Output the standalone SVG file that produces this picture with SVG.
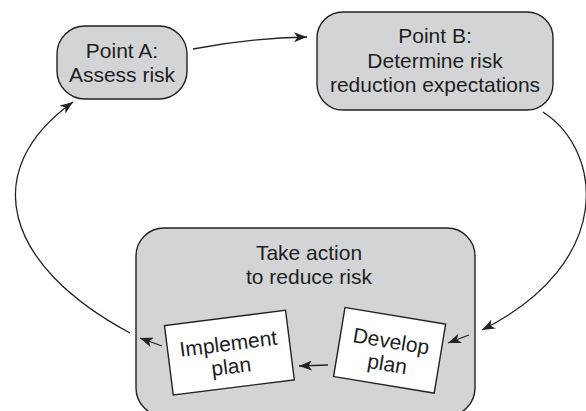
<svg xmlns="http://www.w3.org/2000/svg" width="586" height="411" viewBox="0 0 586 411">
<defs>
<style>
.box{fill:#d3d4d6;stroke:#222;stroke-width:1.4}
.card{fill:#fff;stroke:#222;stroke-width:1.4}
.t{font-family:"Liberation Sans",Arial,sans-serif;font-size:21px;fill:#1e1e1e;text-anchor:middle}
.c{fill:none;stroke:#222;stroke-width:1.3}
</style>
<marker id="ah" markerUnits="userSpaceOnUse" markerWidth="15" markerHeight="10" refX="13" refY="5" orient="auto">
<path d="M0,0 L13,5 L0,10 L3.5,5 z" fill="#222"/>
</marker>
</defs>
<g id="nodeC">
<rect class="box" x="136" y="228" width="339" height="188" rx="28" ry="28"/>
<text class="t" x="309" y="260">Take action</text>
<text class="t" x="309" y="284">to reduce risk</text>
</g>
<g id="nodeA">
<rect class="box" x="57" y="26" width="130" height="73" rx="28" ry="28"/>
<text class="t" x="122" y="58">Point A:</text>
<text class="t" x="122" y="82">Assess risk</text>
</g>
<g id="nodeB">
<rect class="box" x="317" y="12" width="236" height="98" rx="26" ry="26"/>
<text class="t" x="435" y="43">Point B:</text>
<text class="t" x="435" y="68">Determine risk</text>
<text class="t" x="435" y="92">reduction expectations</text>
</g>
<g id="nodeImplement" transform="translate(229.4,352.7) rotate(-7.2)">
<rect class="card" x="-61" y="-35" width="122" height="70"/>
<text class="t" x="0" y="-2">Implement</text>
<text class="t" x="0" y="21">plan</text>
</g>
<g id="nodeDevelop" transform="translate(389.6,350.3) rotate(9.4)">
<rect class="card" x="-51" y="-35" width="102" height="70"/>
<text class="t" x="0" y="-2">Develop</text>
<text class="t" x="0" y="21">plan</text>
</g>
<g id="connectors">
<path class="c" d="M193,49 Q250,38 307,37" marker-end="url(#ah)"/>
<path class="c" d="M543,112 C602,150 617,262 482,330" marker-end="url(#ah)"/>
<path class="c" d="M469,335 L448,343" marker-end="url(#ah)"/>
<path class="c" d="M328,365 L299,366" marker-end="url(#ah)"/>
<path class="c" d="M162,346 L140,338" marker-end="url(#ah)"/>
<path class="c" d="M130,333 C3,265 -22,170 73,102" marker-end="url(#ah)"/>
</g>
</svg>
